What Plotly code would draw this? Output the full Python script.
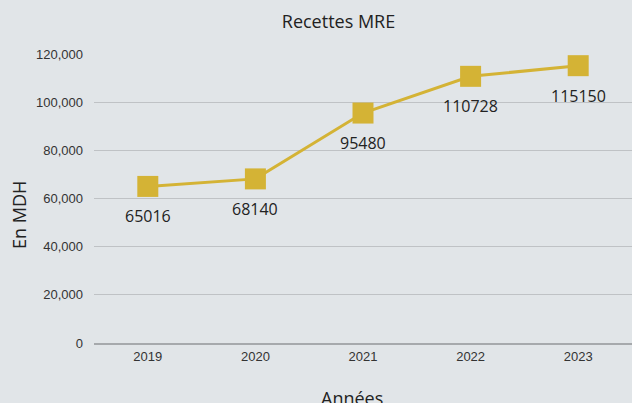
import plotly.graph_objects as go

years = ["2019", "2020", "2021", "2022", "2023"]
recettes = [65016, 68140, 95480, 110728, 115150]
y_ticks = [0, 20000, 40000, 60000, 80000, 100000, 120000]
y_tick_labels = ["0", "20,000", "40,000", "60,000", "80,000", "100,000", "120,000"]

gold = "#d4b335"
txt = "#222222"

fig = go.Figure()
fig.add_trace(go.Scatter(
    x=years, y=recettes,
    mode="lines+markers",
    line=dict(color=gold, width=3),
    marker=dict(symbol="square", size=21, color=gold),
    cliponaxis=False,
    showlegend=False,
    hoverinfo="skip",
))

for i, v in enumerate(recettes):
    fig.add_annotation(x=i, y=v, xref="x", yref="y", text=str(v), showarrow=False, yshift=-30,
                       font=dict(family="Open Sans", size=16, color=txt))

# axis titles placed as in the reference
fig.add_annotation(xref="paper", yref="paper", x=(352 - 94) / 538, y=(343 - 398) / 289,
                   text="Années", showarrow=False, xanchor="center", yanchor="middle",
                   font=dict(family="Open Sans", size=18, color=txt))
fig.add_annotation(xref="paper", yref="paper", x=(18.5 - 94) / 538, y=(343 - 215.5) / 289,
                   text="En MDH", showarrow=False, textangle=-90, xanchor="center", yanchor="middle",
                   font=dict(family="Open Sans", size=18, color=txt))

fig.update_layout(
    width=632, height=403,
    paper_bgcolor="#e1e5e8", plot_bgcolor="#e1e5e8",
    margin=dict(l=94, r=0, t=54, b=60, autoexpand=False),
    title=dict(text="Recettes MRE", x=338.5 / 632, xanchor="center", y=1 - 22 / 403, yanchor="middle",
               font=dict(family="Open Sans", size=18, color=txt)),
    xaxis=dict(
        type="category", categoryorder="array", categoryarray=years,
        range=[-0.5, len(years) - 0.5],
        showgrid=False, showline=True, linecolor="#a6a9ac", linewidth=2,
        ticks="", tickfont=dict(family="Liberation Sans", size=13, color="#333"),
        ticklabelstandoff=0,
    ),
    yaxis=dict(
        range=[0, 120000],
        tickvals=y_ticks, ticktext=y_tick_labels,
        showgrid=True, gridcolor="#bfc2c5", gridwidth=1, zeroline=False,
        tickfont=dict(family="Liberation Sans", size=13, color="#333"),
        ticklabelstandoff=10,
    ),
)

fig.write_html("out.html", config={"displayModeBar": False},
               post_script="document.body.style.margin='0';document.body.style.overflow='hidden';")
